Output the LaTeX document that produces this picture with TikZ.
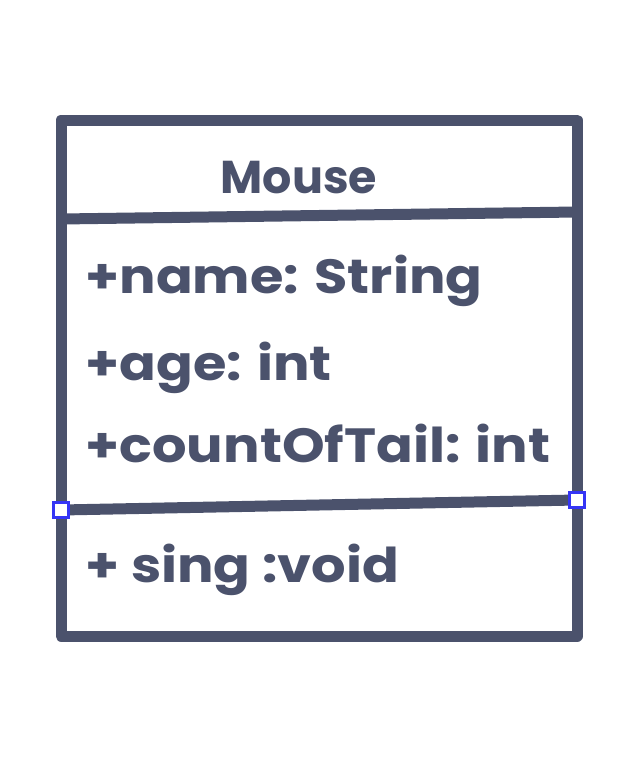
\documentclass[tikz,border=0pt]{standalone}
\usepackage{fontspec}
\setmainfont{Poppins}
\definecolor{ink}{HTML}{4B526C}
\definecolor{handle}{HTML}{3535F5}
\newcommand\wide[1]{\scalebox{1.13}[1]{#1}}

\begin{document}
\begin{tikzpicture}[x=1pt, y=-1pt, line width=11pt, draw=ink,
	member/.style={anchor=base west, text=ink, font=\bfseries\fontsize{48}{54}\selectfont, inner sep=0pt},
	grip/.style={draw=handle, fill=white, line width=3pt, minimum size=15pt, inner sep=0pt}]
	\useasboundingbox (0,0) rectangle (634,760);
	\def\L{61} \def\R{577}
	\draw[ink, line join=round] (\L,120) rectangle (\R,636);
	\draw[ink] (\L,219) -- (\R,212);
	\coordinate (mleft) at (\L,510);
	\coordinate (mright) at (\R,500);
	\draw[ink] (mleft) -- (mright);

	\node[member, anchor=base, font=\bfseries\fontsize{46}{50}\selectfont] (title) at (299,193) {Mouse};
	\node[member] (name) at (80,293) {\wide{+name: String}};
	\node[member] (age) at (80,380) {\wide{+age: int}};
	\node[member] (tail) at (80,462) {\wide{+countOfTail: int}};
	\node[member] (sing) at (80,582) {\wide{+ sing :void}};

	\node[grip] at (mleft) {};
	\node[grip] at (mright) {};
\end{tikzpicture}
\end{document}
